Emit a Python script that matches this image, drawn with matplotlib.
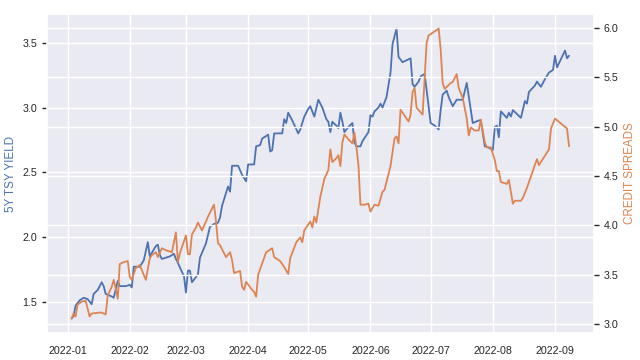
import matplotlib
matplotlib.use("Agg")
import matplotlib.pyplot as plt
import seaborn as sns
import pandas as pd

# days since 2022-01-01
tsy_days = [2, 3, 4, 6, 8, 10, 12, 13, 15, 17, 18, 19, 22, 23, 25, 26, 29, 31, 32, 33,
            36, 38, 40, 41, 44, 45, 46, 47, 51, 53, 54, 55, 57, 58, 59, 60, 61, 62, 65, 66,
            69, 71, 73, 75, 76, 77, 78, 80, 81, 82, 85, 87, 89, 90, 93, 94, 96, 97, 100, 101,
            102, 103, 107, 108, 109, 110, 112, 115, 116, 118, 120, 121, 123, 125, 127, 129, 130, 131, 132, 134,
            135, 136, 137, 138, 140, 142, 143, 144, 146, 147, 150, 151, 152, 153, 155, 156, 157, 159, 161, 162,
            164, 165, 167, 171, 172, 173, 175, 176, 178, 181, 183, 185, 186, 187, 189, 190, 192, 194, 197, 199,
            202, 205, 206, 208, 210, 212, 213, 214, 215, 216, 219, 220, 221, 222, 224, 226, 228, 229, 230, 233,
            234, 236, 238, 240, 242, 243, 244, 248, 249, 250]
tsy_yield = [1.37, 1.39, 1.47, 1.51, 1.53, 1.52, 1.48, 1.56, 1.59, 1.65, 1.62, 1.56, 1.54, 1.53, 1.66, 1.62, 1.62, 1.63, 1.61, 1.77,
             1.77, 1.82, 1.96, 1.85, 1.93, 1.94, 1.86, 1.83, 1.85, 1.87, 1.83, 1.80, 1.73, 1.70, 1.57, 1.74, 1.74, 1.65, 1.71, 1.84,
             1.95, 2.08, 2.10, 2.11, 2.15, 2.24, 2.29, 2.39, 2.35, 2.55, 2.55, 2.48, 2.43, 2.56, 2.56, 2.70, 2.71, 2.76, 2.79, 2.66,
             2.67, 2.80, 2.80, 2.91, 2.88, 2.96, 2.90, 2.80, 2.83, 2.93, 2.99, 3.01, 2.93, 3.06, 3.00, 2.91, 2.89, 2.81, 2.89, 2.86,
             2.84, 2.96, 2.89, 2.81, 2.85, 2.88, 2.73, 2.70, 2.70, 2.74, 2.81, 2.94, 2.93, 2.97, 3.00, 3.03, 3.00, 3.08, 3.27, 3.49,
             3.61, 3.39, 3.35, 3.38, 3.18, 3.16, 3.20, 3.24, 3.26, 2.88, 2.86, 2.83, 2.98, 3.10, 3.13, 3.08, 3.01, 3.06, 3.06, 3.19,
             2.88, 2.90, 2.90, 2.70, 2.69, 2.67, 2.85, 2.86, 2.77, 2.97, 2.92, 2.96, 2.93, 2.98, 2.95, 2.92, 3.05, 3.03, 3.12, 3.17,
             3.20, 3.16, 3.22, 3.27, 3.29, 3.40, 3.31, 3.44, 3.38, 3.40]

spread_days = [2, 3, 4, 5, 7, 9, 11, 12, 16, 17, 19, 20, 22, 23, 24, 25, 26, 28, 30, 31,
               32, 34, 36, 38, 39, 41, 42, 44, 45, 47, 49, 52, 54, 55, 56, 59, 60, 61, 62, 64,
               65, 67, 69, 70, 73, 74, 75, 76, 79, 81, 82, 83, 86, 87, 88, 89, 92, 93, 94, 95,
               96, 99, 102, 103, 106, 108, 110, 111, 114, 116, 117, 118, 121, 122, 123, 124, 126, 128, 130, 131,
               132, 134, 135, 136, 137, 138, 140, 142, 143, 144, 145, 146, 148, 150, 151, 153, 155, 157, 158, 161,
               163, 164, 165, 166, 170, 171, 172, 173, 174, 177, 179, 180, 185, 186, 187, 188, 191, 192, 194, 195,
               197, 199, 200, 201, 203, 205, 206, 208, 209, 211, 213, 214, 215, 216, 219, 220, 222, 223, 226, 227,
               229, 234, 235, 240, 241, 243, 249, 250]
credit_spreads = [3.06, 3.11, 3.08, 3.20, 3.23, 3.24, 3.08, 3.11, 3.12, 3.12, 3.10, 3.29, 3.38, 3.45, 3.36, 3.26, 3.61, 3.63, 3.64, 3.48,
                  3.45, 3.57, 3.60, 3.50, 3.45, 3.67, 3.70, 3.73, 3.68, 3.77, 3.75, 3.73, 3.93, 3.63, 3.72, 3.90, 3.71, 3.71, 3.91, 3.98,
                  4.03, 3.95, 4.04, 4.09, 4.21, 4.04, 3.82, 3.80, 3.68, 3.73, 3.65, 3.52, 3.54, 3.38, 3.35, 3.43, 3.35, 3.33, 3.28, 3.50,
                  3.56, 3.73, 3.77, 3.68, 3.64, 3.58, 3.51, 3.67, 3.83, 3.88, 3.83, 3.95, 4.04, 3.98, 4.09, 4.03, 4.29, 4.47, 4.56, 4.77,
                  4.64, 4.68, 4.71, 4.60, 4.84, 4.92, 4.87, 4.83, 4.94, 4.79, 4.61, 4.21, 4.21, 4.22, 4.14, 4.21, 4.20, 4.34, 4.36, 4.60,
                  4.88, 4.90, 4.83, 5.17, 5.05, 5.12, 5.35, 5.39, 5.19, 5.12, 5.85, 5.92, 5.99, 5.78, 5.44, 5.38, 5.44, 5.45, 5.53, 5.39,
                  5.29, 5.08, 4.91, 4.99, 4.96, 4.96, 5.07, 4.84, 4.79, 4.79, 4.66, 4.55, 4.55, 4.44, 4.42, 4.46, 4.22, 4.25, 4.25, 4.28,
                  4.38, 4.67, 4.61, 4.77, 4.98, 5.08, 4.98, 4.80]

start = pd.Timestamp("2022-01-01")
tsy_dates = start + pd.to_timedelta(tsy_days, unit="D")
spread_dates = start + pd.to_timedelta(spread_days, unit="D")

sns.set_theme(style="darkgrid")
plt.rcParams["font.family"] = ["Liberation Sans", "DejaVu Sans"]

blue = "#4C72B0"
orange = "#DD8452"

fig = plt.figure(figsize=(6.4, 3.6), dpi=100)
ax = fig.add_axes([0.073, 0.075, 0.855, 0.886])
ax.plot(tsy_dates, tsy_yield, color=blue, lw=1.3)
ax.set_ylabel("5Y TSY YIELD", color=blue, fontsize=8.4)
ax.tick_params(axis="both", labelsize=7.7, colors="#262626")
ax.tick_params(axis="y", length=3.5, width=1, color="#262626", left=True)

ax2 = ax.twinx()
ax2.plot(spread_dates, credit_spreads, color=orange, lw=1.3)
ax2.set_ylabel("CREDIT SPREADS", color=orange, fontsize=8.4)
ax2.tick_params(axis="y", labelsize=7.7, colors="#262626", length=3.5, width=1, right=True)
for s in ax2.spines.values():
    s.set_visible(False)

fig.savefig("out.png", dpi=100)
